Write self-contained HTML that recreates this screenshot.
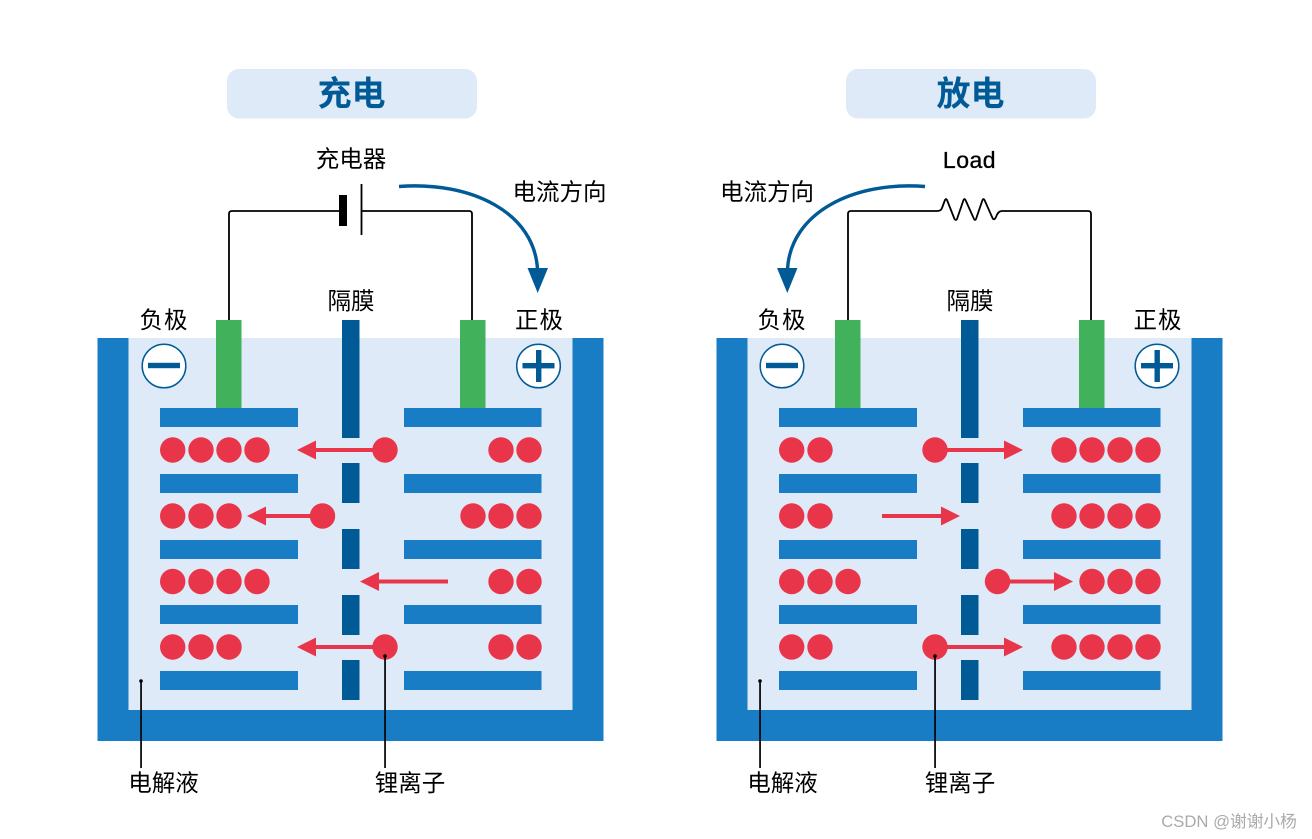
<!DOCTYPE html>
<html><head><meta charset="utf-8"><style>
html,body{margin:0;padding:0;background:#fff;width:1312px;height:839px;overflow:hidden}
svg{display:block}
text{font-family:"Liberation Sans","Noto Sans CJK SC",sans-serif;fill:#000;font-size:23.5px;text-anchor:middle}
.t{font-size:34px;font-weight:700;fill:#005a96}
.w{fill:#187dc4}.b{fill:#deeaf8}.g{fill:#41b25b}.s{fill:#005a96}.r{fill:#e93549}
.wire{fill:none;stroke:#000;stroke-width:1.8;stroke-linejoin:round}
.ln{stroke:#e93549;stroke-width:4;fill:none}
</style></head><body>
<svg width="1312" height="839" viewBox="0 0 1312 839" xmlns="http://www.w3.org/2000/svg">
<!-- LEFT -->
<rect x="227" y="69" width="250" height="49.500" rx="12" class="b"/>
<text x="351.500" y="105.500" class="t">充电</text>
<text x="351" y="167">充电器</text>
<text x="559.500" y="200">电流方向</text>
<text x="164" y="328" letter-spacing="1">负极</text>
<text x="351" y="309">隔膜</text>
<text x="539.500" y="328" letter-spacing="1">正极</text>
<text x="163.500" y="791">电解液</text>
<text x="410" y="791">锂离子</text>
<path class="wire" d="M229 320V214Q229 211 232 211H340M361 211H469Q472 211 472 214V320"/>
<rect x="339" y="195" width="8" height="31"/>
<rect x="360.600" y="184" width="1.800" height="51"/>
<path d="M399 186.500C472 181 535 213 537.500 270" fill="none" stroke="#005a96" stroke-width="3.400"/>
<path d="M527.500 268H548L537.700 293Z" class="s"/>
<rect x="97.500" y="338" width="506" height="403" class="w"/>
<rect x="128.500" y="338" width="444" height="372" class="b"/>
<rect x="216" y="320" width="25.500" height="88" class="g"/>
<rect x="460" y="320" width="25.500" height="88" class="g"/>
<circle cx="164" cy="366" r="21.800" fill="#fff" stroke="#005a96" stroke-width="1.500"/>
<rect x="148" y="362.800" width="32" height="5.400" class="s"/>
<circle cx="538.500" cy="366" r="21.800" fill="#fff" stroke="#005a96" stroke-width="1.500"/>
<rect x="522.500" y="363" width="32" height="5.400" class="s"/>
<rect x="536" y="350" width="5.400" height="32" class="s"/>
<g class="s">
<rect x="342" y="320" width="17.500" height="118"/>
<rect x="342" y="463" width="17.500" height="40"/>
<rect x="342" y="529" width="17.500" height="40"/>
<rect x="342" y="595" width="17.500" height="40"/>
<rect x="342" y="660" width="17.500" height="40"/>
</g>
<g class="w">
<rect x="160" y="408" width="138" height="19"/><rect x="404" y="408" width="137.500" height="19"/>
<rect x="160" y="474" width="138" height="19"/><rect x="404" y="474" width="137.500" height="19"/>
<rect x="160" y="540" width="138" height="19"/><rect x="404" y="540" width="137.500" height="19"/>
<rect x="160" y="605" width="138" height="19"/><rect x="404" y="605" width="137.500" height="19"/>
<rect x="160" y="671" width="138" height="19"/><rect x="404" y="671" width="137.500" height="19"/>
</g>
<g class="r">
<circle cx="172.700" cy="450" r="12.700"/><circle cx="201" cy="450" r="12.700"/><circle cx="229" cy="450" r="12.700"/><circle cx="257" cy="450" r="12.700"/>
<circle cx="501" cy="450" r="12.700"/><circle cx="529" cy="450" r="12.700"/><circle cx="385" cy="450" r="12.700"/>
<circle cx="172.700" cy="516" r="12.700"/><circle cx="201" cy="516" r="12.700"/><circle cx="229" cy="516" r="12.700"/>
<circle cx="473" cy="516" r="12.700"/><circle cx="501" cy="516" r="12.700"/><circle cx="529" cy="516" r="12.700"/><circle cx="322.500" cy="516" r="12.700"/>
<circle cx="172.700" cy="581.500" r="12.700"/><circle cx="201" cy="581.500" r="12.700"/><circle cx="229" cy="581.500" r="12.700"/><circle cx="257" cy="581.500" r="12.700"/>
<circle cx="501" cy="581.500" r="12.700"/><circle cx="529" cy="581.500" r="12.700"/>
<circle cx="172.700" cy="647" r="12.700"/><circle cx="201" cy="647" r="12.700"/><circle cx="229" cy="647" r="12.700"/>
<circle cx="501" cy="647" r="12.700"/><circle cx="529" cy="647" r="12.700"/><circle cx="385" cy="647" r="12.700"/>
<path d="M297 450L316 440.500V459.500Z"/><path d="M247 516L266 506.500V525.500Z"/><path d="M360 581.500L379 572V591Z"/><path d="M297 647L316 637.500V656.500Z"/>
</g>
<path class="ln" d="M314 450H375M264 516H312M377 581.500H448M314 647H375"/>
<g>
<circle cx="141" cy="681" r="1.800"/><rect x="140.200" y="681" width="1.700" height="87"/>
<circle cx="385" cy="656" r="1.800"/><rect x="384.200" y="656" width="1.700" height="112"/>
</g>
<!-- RIGHT -->
<rect x="846" y="69" width="250" height="49.500" rx="12" class="b"/>
<text x="970.500" y="105.500" class="t">放电</text>
<text x="969.500" y="168" style="font-size:23px;stroke:#000;stroke-width:.35px" letter-spacing=".5">Load</text>
<text x="767" y="200">电流方向</text>
<text x="782" y="328" letter-spacing="1">负极</text>
<text x="970" y="309">隔膜</text>
<text x="1158" y="328" letter-spacing="1">正极</text>
<text x="782.500" y="791">电解液</text>
<text x="960" y="791">锂离子</text>
<path class="wire" d="M848 320V214Q848 211 851 211H937Q941 211 942 208L945 200Q946 198 947 200L954.500 219Q956 221 957 219L963.500 200Q964.500 198 965.500 200L974 219Q975 221 976 219L982.500 200Q983.500 198 984.500 200L992.500 218Q994 221 996 217Q998 211 1002 211H1088Q1091 211 1091 214V320"/>
<path d="M925 186.500C853 181 790 213 787.500 270" fill="none" stroke="#005a96" stroke-width="3.400"/>
<path d="M777 268H797.500L787.300 293Z" class="s"/>
<rect x="716.500" y="338" width="506" height="403" class="w"/>
<rect x="747.500" y="338" width="444" height="372" class="b"/>
<rect x="835" y="320" width="25.500" height="88" class="g"/>
<rect x="1079" y="320" width="25.500" height="88" class="g"/>
<circle cx="782" cy="366" r="21.800" fill="#fff" stroke="#005a96" stroke-width="1.500"/>
<rect x="766" y="362.800" width="32" height="5.400" class="s"/>
<circle cx="1157" cy="366" r="21.800" fill="#fff" stroke="#005a96" stroke-width="1.500"/>
<rect x="1141" y="363" width="32" height="5.400" class="s"/>
<rect x="1154.500" y="350" width="5.400" height="32" class="s"/>
<g class="s">
<rect x="961" y="320" width="17.500" height="118"/>
<rect x="961" y="463" width="17.500" height="40"/>
<rect x="961" y="529" width="17.500" height="40"/>
<rect x="961" y="595" width="17.500" height="40"/>
<rect x="961" y="660" width="17.500" height="40"/>
</g>
<g class="w">
<rect x="779" y="408" width="138" height="19"/><rect x="1023" y="408" width="137.500" height="19"/>
<rect x="779" y="474" width="138" height="19"/><rect x="1023" y="474" width="137.500" height="19"/>
<rect x="779" y="540" width="138" height="19"/><rect x="1023" y="540" width="137.500" height="19"/>
<rect x="779" y="605" width="138" height="19"/><rect x="1023" y="605" width="137.500" height="19"/>
<rect x="779" y="671" width="138" height="19"/><rect x="1023" y="671" width="137.500" height="19"/>
</g>
<g class="r">
<circle cx="791.700" cy="450" r="12.700"/><circle cx="820" cy="450" r="12.700"/>
<circle cx="1064" cy="450" r="12.700"/><circle cx="1092" cy="450" r="12.700"/><circle cx="1120" cy="450" r="12.700"/><circle cx="1148" cy="450" r="12.700"/><circle cx="935" cy="450" r="12.700"/>
<circle cx="791.700" cy="516" r="12.700"/><circle cx="820" cy="516" r="12.700"/>
<circle cx="1064" cy="516" r="12.700"/><circle cx="1092" cy="516" r="12.700"/><circle cx="1120" cy="516" r="12.700"/><circle cx="1148" cy="516" r="12.700"/>
<circle cx="791.700" cy="581.500" r="12.700"/><circle cx="820" cy="581.500" r="12.700"/><circle cx="848" cy="581.500" r="12.700"/>
<circle cx="1092" cy="581.500" r="12.700"/><circle cx="1120" cy="581.500" r="12.700"/><circle cx="1148" cy="581.500" r="12.700"/><circle cx="997.500" cy="581.500" r="12.700"/>
<circle cx="791.700" cy="647" r="12.700"/><circle cx="820" cy="647" r="12.700"/>
<circle cx="1064" cy="647" r="12.700"/><circle cx="1092" cy="647" r="12.700"/><circle cx="1120" cy="647" r="12.700"/><circle cx="1148" cy="647" r="12.700"/><circle cx="935" cy="647" r="12.700"/>
<path d="M1023 450L1004 440.500V459.500Z"/><path d="M960 516L941 506.500V525.500Z"/><path d="M1073 581.500L1054 572V591Z"/><path d="M1023 647L1004 637.500V656.500Z"/>
</g>
<path class="ln" d="M945 450H1006M882 516H943M1007 581.500H1056M945 647H1006"/>
<g>
<circle cx="760" cy="681" r="1.800"/><rect x="759.200" y="681" width="1.700" height="87"/>
<circle cx="935" cy="656" r="1.800"/><rect x="934.200" y="656" width="1.700" height="112"/>
</g>
<text x="1229" y="827" style="font-size:16.700px;fill:#aaa">CSDN @谢谢小杨</text>
</svg>
</body></html>
